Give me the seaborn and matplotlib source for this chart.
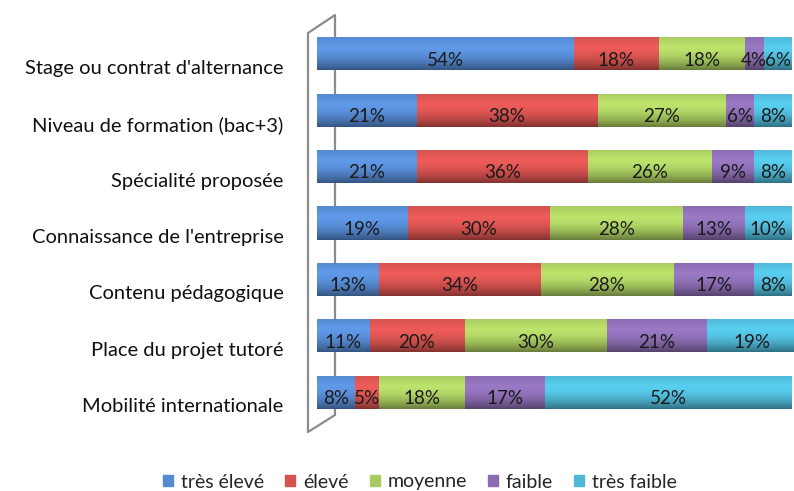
import matplotlib.pyplot as plt
import matplotlib.transforms as mtransforms
from matplotlib.patches import Patch
import seaborn as sns
import numpy as np
import pandas as pd

# Données du graphique
criteres = ["Stage ou contrat d'alternance", "Niveau de formation (bac+3)",
            "Spécialité proposée", "Connaissance de l'entreprise",
            "Contenu pédagogique", "Place du projet tutoré",
            "Mobilité internationale"]
niveaux = ["très élevé", "élevé", "moyenne", "faible", "très faible"]
tres_eleve = [54, 21, 21, 19, 13, 11, 8]
eleve = [18, 38, 36, 30, 34, 20, 5]
moyenne = [18, 27, 26, 28, 28, 30, 18]
faible = [4, 6, 9, 13, 17, 21, 17]
tres_faible = [6, 8, 8, 10, 8, 19, 52]
couleurs = ["#5589d0", "#d4524f", "#a9cb61", "#8a6cb0", "#4fb8d6"]

df = pd.DataFrame({"critere": criteres, "très élevé": tres_eleve, "élevé": eleve,
                   "moyenne": moyenne, "faible": faible, "très faible": tres_faible})
cumul = df[niveaux].cumsum(axis=1)

sns.set_style("white")
plt.rcParams['font.family'] = ['Lato', 'DejaVu Sans']

W, H = 794, 491
fig = plt.figure(figsize=(W / 100, H / 100), dpi=100)
ax = fig.add_axes([317 / W, 1 - 430 / H, 475 / W, 410 / H])

# petit "mur" 3D a gauche
px = lambda x, y: (x / W, 1 - y / H)
mur = [px(308, 33), px(335, 15), px(335, 415), px(308, 432), px(308, 33)]
ax.plot([p[0] for p in mur], [p[1] for p in mur], color="#8c8c8c", lw=1.6,
        transform=fig.transFigure, clip_on=False, zorder=0)

# barres empilees: on dessine les cumuls du plus grand au plus petit
largeur = 0.59
for i in range(len(niveaux) - 1, -1, -1):
    n0 = len(ax.patches)
    sns.barplot(x=cumul[niveaux[i]].values, y=df["critere"], orient="h",
                color=couleurs[i], width=largeur, saturation=1, ax=ax)
    base = np.array(plt.matplotlib.colors.to_rgb(couleurs[i]))
    t = np.linspace(0, 1, 60)
    # degrade vertical facon cylindre
    shade = np.where(t < 0.3, 1.0 + 0.12 * (t / 0.3),
                     1.12 - 0.5 * ((t - 0.3) / 0.7) ** 1.8)
    grad = np.clip(base[None, :] * shade[:, None], 0, 1)
    img = np.concatenate([grad, np.ones((60, 1))], axis=1)[:, None, :]
    z = 2 + 2 * (len(niveaux) - 1 - i)
    for p in ax.patches[n0:]:
        p.set_zorder(z)
        p.set_edgecolor("none")
        x0, y0 = p.get_x(), p.get_y()
        w, h = p.get_width(), p.get_height()
        im = ax.imshow(img, extent=[x0, x0 + w, y0 + h, y0], aspect="auto",
                       zorder=z + 0.5, interpolation="bilinear")
        im.set_clip_path(p)

# etiquettes de pourcentage
valeurs = df[niveaux].values
for r in range(len(criteres)):
    debut = 0
    for c in range(len(niveaux)):
        v = valeurs[r, c]
        ax.text(debut + v / 2, r + 0.11, f"{v}%", ha="center", va="center",
                fontsize=13.5, color="#1a1a1a", zorder=50, clip_on=True)
        debut += v

ax.set_xlim(0, 100)
ax.set_ylim(6.67, -0.60)
ax.set_xlabel("")
ax.set_ylabel("")
ax.set_xticks([])
ax.set_yticks(range(len(criteres)))
ax.set_yticklabels(criteres, fontsize=14.5, color="#111111")
ax.tick_params(axis="y", length=0, pad=24)
decal = mtransforms.ScaledTranslation(0, -0.13, fig.dpi_scale_trans)
for lab in ax.get_yticklabels():
    lab.set_transform(lab.get_transform() + decal)
for s in ax.spines.values():
    s.set_visible(False)
ax.patch.set_alpha(0)

poignees = [Patch(color=c, label=n) for c, n in zip(couleurs, niveaux)]
fig.legend(handles=poignees, loc="center", bbox_to_anchor=(420 / W, 1 - 482 / H),
           ncol=5, frameon=False, fontsize=14, handlelength=0.5, handleheight=0.5,
           handletextpad=0.4, columnspacing=1.1)

fig.savefig("out.png", dpi=100)
